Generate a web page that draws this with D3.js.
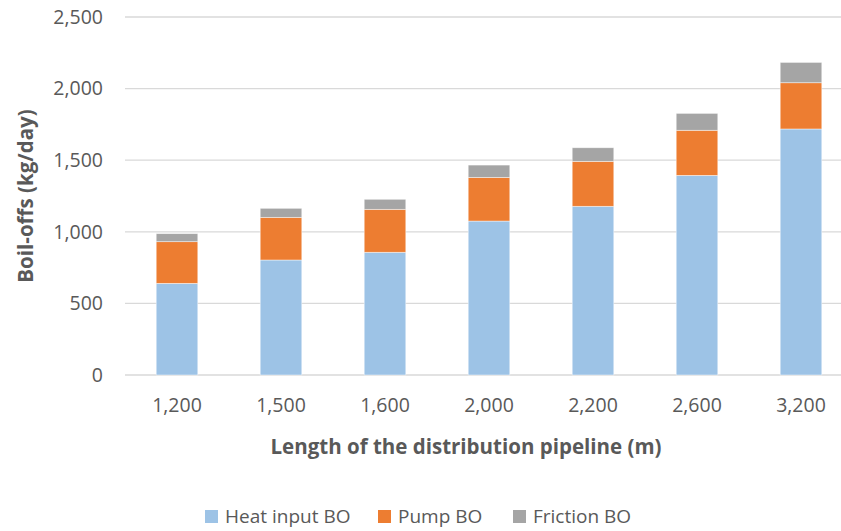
<!DOCTYPE html>
<html>
<head>
<meta charset="utf-8">
<script src="https://cdn.jsdelivr.net/npm/d3@7"></script>
<style>
  html, body { margin: 0; padding: 0; background: #fff; }
  svg { display: block; font-family: "Open Sans", Lato, sans-serif; }
</style>
</head>
<body>
<svg id="chart" width="841" height="531"></svg>
<script>
// Pipeline lengths (m) and boil-off components (kg/day)
const lengths = ["1,200", "1,500", "1,600", "2,000", "2,200", "2,600", "3,200"];
const heatInput = [640, 803, 857, 1075, 1178, 1394, 1718];
const pump = [291, 298, 300, 305, 314, 315, 323];
const friction = [56, 63, 70, 86, 95, 118, 142];
const seriesNames = ["Heat input BO", "Pump BO", "Friction BO"];
const seriesColors = ["#9DC3E6", "#ED7D31", "#A5A5A5"];
const yTicks = [0, 500, 1000, 1500, 2000, 2500];

const rows = lengths.map((len, i) => ({
  len,
  "Heat input BO": heatInput[i],
  "Pump BO": pump[i],
  "Friction BO": friction[i]
}));

const svg = d3.select("#chart");
const plotLeft = 125, plotRight = 853, plotTop = 17, plotBottom = 375;
const textColor = "#595959";
const fontFamily = "'Open Sans', Lato, sans-serif";

const x = d3.scaleBand().domain(lengths).range([plotLeft, plotRight])
  .paddingInner(0.6).paddingOuter(0.3);
const y = d3.scaleLinear().domain([0, 2500]).range([plotBottom, plotTop]);

// Horizontal gridlines
svg.append("g")
  .selectAll("line")
  .data(yTicks)
  .join("line")
  .attr("x1", plotLeft).attr("x2", 841)
  .attr("y1", d => y(d)).attr("y2", d => y(d))
  .attr("stroke", "#D9D9D9").attr("stroke-width", 1.3);

// Y tick labels
const yAxis = d3.axisLeft(y).tickValues(yTicks).tickFormat(d3.format(",")).tickSize(0).tickPadding(0);
svg.append("g")
  .attr("transform", `translate(${plotLeft - 22},0)`)
  .call(yAxis)
  .call(g => g.select(".domain").remove())
  .selectAll("text")
  .attr("font-family", fontFamily)
  .attr("font-size", 19.5)
  .attr("fill", textColor);

// Stacked bars
const stack = d3.stack().keys(seriesNames);
const layers = stack(rows);
const color = d3.scaleOrdinal().domain(seriesNames).range(seriesColors);

svg.append("g")
  .selectAll("g")
  .data(layers)
  .join("g")
  .attr("fill", d => color(d.key))
  .selectAll("rect")
  .data(d => d)
  .join("rect")
  .attr("x", d => x(d.data.len))
  .attr("width", x.bandwidth())
  .attr("y", d => y(d[1]))
  .attr("height", d => y(d[0]) - y(d[1]))
  .attr("stroke", "#ffffff")
  .attr("stroke-opacity", 0.6)
  .attr("stroke-width", 0.75);

// X tick labels
const xAxis = d3.axisBottom(x).tickSize(0).tickPadding(0);
svg.append("g")
  .attr("transform", `translate(0,${plotBottom + 23})`)
  .call(xAxis)
  .call(g => g.select(".domain").remove())
  .selectAll("text")
  .attr("font-family", fontFamily)
  .attr("font-size", 19.5)
  .attr("fill", textColor);

// Axis titles
svg.append("text")
  .attr("x", 466).attr("y", 454)
  .attr("text-anchor", "middle")
  .attr("font-size", 20.5).attr("font-weight", "bold")
  .attr("fill", textColor)
  .text("Length of the distribution pipeline (m)");

svg.append("text")
  .attr("transform", "translate(33,196) rotate(-90)")
  .attr("text-anchor", "middle")
  .attr("font-size", 20.5).attr("font-weight", "bold")
  .attr("fill", textColor)
  .text("Boil-offs (kg/day)");

// Legend
const legendX = [205, 378, 513];
const legend = svg.append("g")
  .selectAll("g")
  .data(seriesNames)
  .join("g")
  .attr("transform", (d, i) => `translate(${legendX[i]},510)`);
legend.append("rect")
  .attr("width", 13).attr("height", 13)
  .attr("fill", d => color(d));
legend.append("text")
  .attr("x", 20).attr("y", 13)
  .attr("font-size", 19)
  .attr("fill", textColor)
  .text(d => d);
</script>
</body>
</html>
